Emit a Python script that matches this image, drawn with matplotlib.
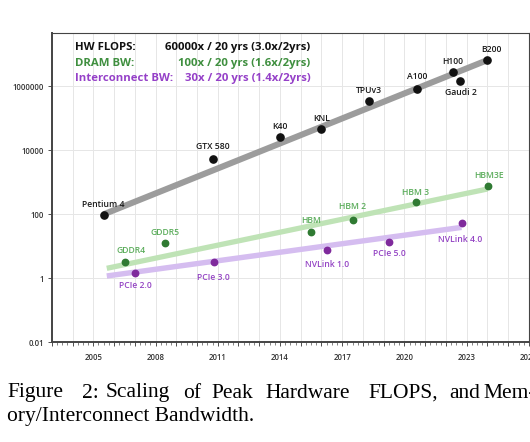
import numpy as np
import matplotlib.pyplot as plt
from matplotlib.ticker import FixedLocator, FixedFormatter, MultipleLocator

# peak hardware FLOPS
hw_names = ["Pentium 4", "GTX 580", "K40", "KNL", "TPUv3", "A100", "H100", "Gaudi 2", "B200"]
hw_years = [2005.5, 2010.75, 2014.0, 2016.0, 2018.3, 2020.6, 2022.35, 2022.7, 2024.0]
hw_values = [97, 5460, 26000, 46000, 355000, 824000, 2.74e6, 1.43e6, 6.6e6]

# DRAM bandwidth
dram_names = ["GDDR4", "GDDR5", "HBM", "HBM 2", "HBM 3", "HBM3E"]
dram_years = [2006.55, 2008.45, 2015.5, 2017.5, 2020.55, 2024.05]
dram_values = [3.2, 12.4, 27.4, 66, 237, 766]

# interconnect bandwidth
ic_names = ["PCIe 2.0", "PCIe 3.0", "NVLink 1.0", "PCIe 5.0", "NVLink 4.0"]
ic_years = [2007.0, 2010.8, 2016.25, 2019.25, 2022.75]
ic_values = [1.5, 3.2, 7.8, 13.6, 52.5]

# fitted trends (start, end)
hw_trend_years = [2005.5, 2024.0]
hw_trend_values = [100, 6.6e6]
dram_trend_years = [2005.65, 2024.0]
dram_trend_values = [2.05, 617]
ic_trend_years = [2005.65, 2022.75]
ic_trend_values = [1.18, 39]

summary_labels = ["HW FLOPS:", "DRAM BW:", "Interconnect BW:"]
summary_rates = ["60000x / 20 yrs (3.0x/2yrs)", "100x / 20 yrs (1.6x/2yrs)", "30x / 20 yrs (1.4x/2yrs)"]

y_ticks = [0.01, 1, 100, 10000, 1000000]
y_ticklabels = ["0.01", "1", "100", "10000", "1000000"]
x_labelled = [2005, 2008, 2011, 2014, 2017, 2020, 2023, 2026]

caption_line1 = ["Figure", "2:", "Scaling", "of", "Peak", "Hardware", "FLOPS,", "and", "Mem-"]
caption_line2 = "ory/Interconnect Bandwidth."

# label offsets in points (layout only)
hw_offsets = [(0, 7.5), (0, 8.6), (0, 7.4), (0, 7.7), (0, 7.2), (0, 9.2), (0, 7.9), (0, -7.7), (2.9, 7.9)]
dram_offsets = [(3.8, 8.1), (0, 7.6), (0, 8.4), (0, 10), (0, 7.2), (0.5, 7.4)]
ic_offsets = [(0.7, -9.4), (0, -11), (0, -10.8), (0, -8.4), (-0.7, -11.8)]

BLACK = "#111111"
GREEN_PT = "#2f7a32"
GREEN_TXT = "#5cad5c"
GREEN_HEAD = "#3f8f3f"
GREEN_LINE = "#bfe3b6"
PURPLE_PT = "#7f2a9c"
PURPLE_TXT = "#9444c4"
PURPLE_HEAD = "#9540c8"
PURPLE_LINE = "#d5bdf0"
GRAY_LINE = "#9c9c9c"

plt.rcParams["font.family"] = ["Open Sans", "DejaVu Sans"]

fig = plt.figure(figsize=(5.3, 4.42), dpi=100)
ax = fig.add_axes([0.0977, 0.2256, 0.9003, 0.7004])

ax.set_yscale("log")
ax.set_xlim(2003, 2026)
ax.set_ylim(0.01, 10 ** 7.675)

# trends
ax.plot(hw_trend_years, hw_trend_values, color=GRAY_LINE, lw=4.4, solid_capstyle="butt", zorder=2)
ax.plot(dram_trend_years, dram_trend_values, color=GREEN_LINE, lw=3.8, solid_capstyle="butt", zorder=2)
ax.plot(ic_trend_years, ic_trend_values, color=PURPLE_LINE, lw=3.9, solid_capstyle="butt", zorder=2)

# points
ax.plot(hw_years, hw_values, "o", color=BLACK, ms=5.2, ls="none", zorder=3)
ax.plot(dram_years, dram_values, "o", color=GREEN_PT, ms=4.6, ls="none", zorder=3)
ax.plot(ic_years, ic_values, "o", color=PURPLE_PT, ms=4.6, ls="none", zorder=3)

for names, xs, ys, offs, col in [(hw_names, hw_years, hw_values, hw_offsets, "#1a1a1a"),
                                   (dram_names, dram_years, dram_values, dram_offsets, GREEN_TXT),
                                   (ic_names, ic_years, ic_values, ic_offsets, PURPLE_TXT)]:
    for name, x, y, off in zip(names, xs, ys, offs):
        ax.annotate(name, (x, y), xytext=off, textcoords="offset points",
                    ha="center", va="center", fontsize=6.2, color=col, fontweight="semibold")

# summary block
head_colors = [BLACK, GREEN_HEAD, PURPLE_HEAD]
for i, (lab, rate) in enumerate(zip(summary_labels, summary_rates)):
    yy = 0.952 - i * 0.05
    ax.text(0.048, yy, lab, transform=ax.transAxes, fontsize=8.2, fontweight="bold",
            color=head_colors[i], ha="left", va="center")
    ax.text(0.542, yy, rate, transform=ax.transAxes, fontsize=8.2, fontweight="bold",
            color=head_colors[i], ha="right", va="center")

# ticks
ax.yaxis.set_major_locator(FixedLocator(y_ticks))
ax.yaxis.set_major_formatter(FixedFormatter(y_ticklabels))
ax.yaxis.set_minor_locator(FixedLocator([]))
years_all = np.arange(2003, 2027)
ax.xaxis.set_major_locator(FixedLocator(years_all))
ax.xaxis.set_major_formatter(FixedFormatter([str(y) if y in x_labelled else "" for y in years_all]))
ax.xaxis.set_minor_locator(MultipleLocator(0.25))
ax.tick_params(axis="both", which="major", labelsize=5.6, colors="#333333", length=3, width=0.6, pad=2.5)
ax.tick_params(axis="x", which="minor", length=2.5, width=0.5, colors="#555555")
ax.tick_params(axis="x", which="major", pad=5)
for lab in ax.get_xticklabels() + ax.get_yticklabels():
    lab.set_fontweight("semibold")

ax.grid(True, which="major", color="#e6e6e6", lw=0.7, zorder=0)
ax.set_axisbelow(True)
ax.spines["left"].set_linewidth(1.4)
ax.spines["bottom"].set_linewidth(1.4)
ax.spines["top"].set_linewidth(0.8)
ax.spines["right"].set_linewidth(0.8)
for s in ax.spines.values():
    s.set_color("#444444")

# caption (justified first line, runs past the right edge as in the source)
cap_x = [7, 82, 106, 183, 211, 265, 368, 449, 483]
for word, x in zip(caption_line1, cap_x):
    fig.text(x / 530, 1 - 393 / 442, word, fontsize=15.5, family="Liberation Serif", ha="left", va="center")
fig.text(7 / 530, 1 - 417 / 442, caption_line2, fontsize=15.5, family="Liberation Serif", ha="left", va="center")

fig.savefig("out.png", dpi=100)
